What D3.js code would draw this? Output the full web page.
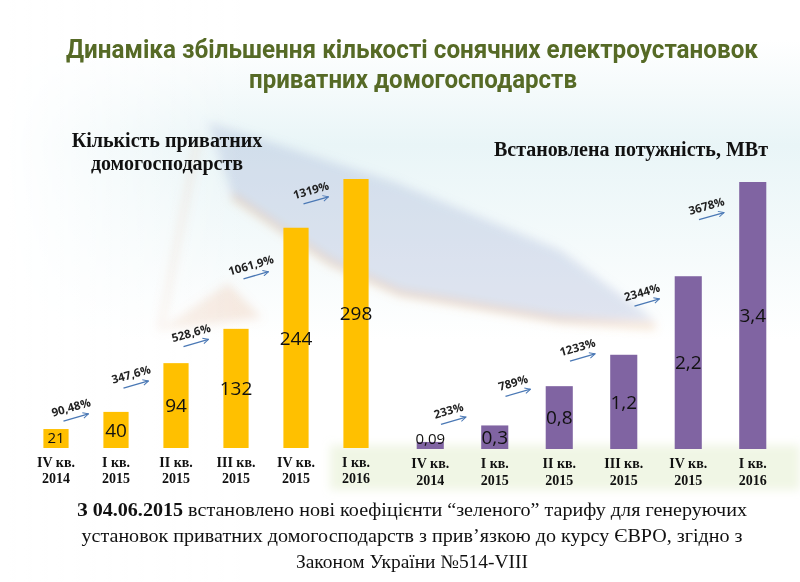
<!DOCTYPE html>
<meta charset="utf-8">

<script src="https://d3js.org/d3.v7.min.js"></script>

<style type="text/css">
body { margin: 0; background: #fff; }
svg { display: block; }
.main-title { font-family: Roboto, "Noto Sans", sans-serif; font-weight: bold; font-size: 25px; fill: #566a26; }
.panel-title { font-family: "Liberation Serif", serif; font-weight: bold; font-size: 20px; fill: #111; }
.cat { font-family: "Liberation Serif", serif; font-weight: bold; font-size: 14px; fill: #111; }
.value { font-family: "Open Sans", sans-serif; font-size: 19px; fill: #111; }
.growth { font-family: "Open Sans", sans-serif; font-weight: bold; font-size: 11.5px; fill: #222; }
.note { font-family: "Liberation Serif", serif; font-size: 19px; fill: #111; }
</style>

<body></body>

<script>

// data
var quarterNames = ["IV кв.", "I кв.", "II кв.", "III кв.", "IV кв.", "I кв."];
var quarterYears = ["2014", "2015", "2015", "2015", "2015", "2016"];

var householdCounts = [21, 40, 94, 132, 244, 298];
var householdGrowth = ["90,48%", "347,6%", "528,6%", "1061,9%", "1319%"];

var capacityMW = [0.09, 0.3, 0.8, 1.2, 2.2, 3.4];
var capacityGrowth = ["233%", "789%", "1233%", "2344%", "3678%"];

var width = 800, height = 582;

var svg = d3.select("body").append("svg")
    .attr("width", width)
    .attr("height", height);

var defs = svg.append("defs");

// faint background, loosely like the faded photo
var sky = defs.append("linearGradient").attr("id", "sky")
    .attr("x1", 0).attr("y1", 0).attr("x2", 0).attr("y2", 1);
sky.append("stop").attr("offset", "0%").attr("stop-color", "#ffffff");
sky.append("stop").attr("offset", "35%").attr("stop-color", "#e9f5f7");
sky.append("stop").attr("offset", "100%").attr("stop-color", "#ffffff");

var fadeLeft = defs.append("linearGradient").attr("id", "fadeLeft");
fadeLeft.append("stop").attr("offset", "0%").attr("stop-color", "#fff").attr("stop-opacity", 1);
fadeLeft.append("stop").attr("offset", "30%").attr("stop-color", "#fff").attr("stop-opacity", 0);

defs.append("filter").attr("id", "soft")
    .attr("x", "-20%").attr("y", "-20%").attr("width", "140%").attr("height", "140%")
  .append("feGaussianBlur").attr("stdDeviation", 5);

defs.append("marker")
    .attr("id", "arrow")
    .attr("viewBox", "0 0 10 10")
    .attr("refX", 9).attr("refY", 5)
    .attr("markerWidth", 7).attr("markerHeight", 7)
    .attr("markerUnits", "userSpaceOnUse")
    .attr("orient", "auto")
  .append("path")
    .attr("d", "M1,1 L9,5 L1,9")
    .attr("fill", "none")
    .attr("stroke", "#4a78b5")
    .attr("stroke-width", 1.4);

var bg = svg.append("g").attr("class", "background");
bg.append("rect").attr("x", 0).attr("y", 40).attr("width", width).attr("height", 300).attr("fill", "url(#sky)");
var photo = bg.append("g").attr("filter", "url(#soft)");
photo.append("path")
    .attr("d", "M208,122 L395,182 L560,250 L655,320 L560,320 L400,293 L330,262 L232,196 Z")
    .attr("fill", "#9aaad2").attr("opacity", 0.3);
photo.append("path")
    .attr("d", "M232,196 L330,262 L400,293 L560,320 L655,326")
    .attr("fill", "none").attr("stroke", "#e3a567").attr("stroke-width", 6).attr("opacity", 0.35);
photo.append("path")
    .attr("d", "M198,138 L160,330")
    .attr("fill", "none").attr("stroke", "#d9a27a").attr("stroke-width", 6).attr("opacity", 0.2);
photo.append("path")
    .attr("d", "M160,330 L228,283 L262,318 Z")
    .attr("fill", "#e3a57a").attr("opacity", 0.22);
photo.append("rect").attr("x", 330).attr("y", 445).attr("width", 470).attr("height", 45)
    .attr("fill", "#d5e6b5").attr("opacity", 0.35);
bg.append("rect").attr("x", 0).attr("y", 0).attr("width", width).attr("height", height).attr("fill", "url(#fadeLeft)");

// main title
svg.append("text").attr("class", "main-title")
    .attr("x", 412).attr("y", 58).attr("text-anchor", "middle")
    .attr("textLength", 692).attr("lengthAdjust", "spacingAndGlyphs")
    .text("Динаміка збільшення кількості сонячних електроустановок");
svg.append("text").attr("class", "main-title")
    .attr("x", 413).attr("y", 88).attr("text-anchor", "middle")
    .attr("textLength", 328).attr("lengthAdjust", "spacingAndGlyphs")
    .text("приватних домогосподарств");

function fmt(v) {
  return String(v).replace(".", ",");
}

function drawPanel(p) {
  var g = svg.append("g");

  var x = d3.scaleBand()
      .domain(d3.range(p.values.length))
      .range(p.xRange)
      .paddingInner(0.58)
      .paddingOuter(0.29);

  var y = d3.scaleLinear()
      .domain([0, d3.max(p.values)])
      .range(p.yRange);

  g.selectAll(".bar")
      .data(p.values)
    .enter().append("rect")
      .attr("class", "bar")
      .attr("x", function(d, i) { return x(i); })
      .attr("y", function(d) { return y(d); })
      .attr("width", x.bandwidth())
      .attr("height", function(d) { return y(0) - y(d); })
      .attr("fill", p.color);

  g.selectAll(".value")
      .data(p.values)
    .enter().append("text")
      .attr("class", "value")
      .attr("x", function(d, i) { return x(i) + x.bandwidth() / 2; })
      .attr("y", function(d) { return Math.min((y(d) + y(0)) / 2, y(0) - 10); })
      .attr("dy", "0.36em")
      .attr("text-anchor", "middle")
      .style("font-size", function(d) { return y(0) - y(d) < 20 ? "15px" : null; })
      .text(function(d) { return fmt(d); });

  // quarter labels
  var axis = g.append("g")
      .attr("transform", "translate(0," + y(0) + ")")
      .call(d3.axisBottom(x).tickSize(0).tickFormat(""));
  axis.select(".domain").remove();
  axis.selectAll(".tick text").remove();
  var ticks = axis.selectAll(".tick").append("text")
      .attr("class", "cat")
      .attr("text-anchor", "middle");
  ticks.append("tspan").attr("x", 0).attr("y", p.catY[0]).text(function(d) { return quarterNames[d]; });
  ticks.append("tspan").attr("x", 0).attr("y", p.catY[1]).text(function(d) { return quarterYears[d]; });

  // growth arrows between neighbouring bars
  var ann = g.selectAll(".ann")
      .data(p.growth)
    .enter().append("g")
      .attr("class", "ann")
      .attr("transform", function(d, i) {
        var cx = (x(i) + x(i + 1) + x.bandwidth()) / 2 + p.annDx;
        var cy = y((p.values[i] + p.values[i + 1]) / 2) + p.annDy;
        return "translate(" + cx + "," + cy + ") rotate(-16)";
      });
  ann.append("line")
      .attr("x1", -13).attr("x2", 13)
      .attr("y1", 0).attr("y2", 0)
      .attr("stroke", "#4a78b5")
      .attr("stroke-width", 1.3)
      .attr("marker-end", "url(#arrow)");
  ann.append("text")
      .attr("class", "growth")
      .attr("x", -2).attr("y", -7)
      .attr("text-anchor", "middle")
      .text(function(d) { return d; });

  // panel title
  var t = svg.append("text").attr("class", "panel-title").attr("text-anchor", "middle");
  p.title.forEach(function(line, i) {
    t.append("tspan").attr("x", p.titleX).attr("y", p.titleY + i * 23).text(line);
  });
}

drawPanel({
  values: householdCounts,
  growth: householdGrowth,
  color: "#ffc000",
  xRange: [26, 386],
  yRange: [448, 179],
  catY: [19, 35],
  annDx: -10,
  annDy: -3,
  title: ["Кількість приватних", "домогосподарств"],
  titleX: 167,
  titleY: 147
});

drawPanel({
  values: capacityMW,
  growth: capacityGrowth,
  color: "#8064a2",
  xRange: [398, 785],
  yRange: [449, 182],
  catY: [19, 36],
  annDx: -9,
  annDy: -13,
  title: ["Встановлена потужність, МВт"],
  titleX: 631,
  titleY: 156
});

// note under the charts
var note = svg.append("g").attr("class", "note-block");
var l1 = note.append("text").attr("class", "note")
    .attr("x", 412).attr("y", 516).attr("text-anchor", "middle")
    .attr("textLength", 670).attr("lengthAdjust", "spacingAndGlyphs");
l1.append("tspan").style("font-weight", "bold").text("З 04.06.2015");
l1.append("tspan").text(" встановлено нові коефіцієнти “зеленого” тарифу для генеруючих");
note.append("text").attr("class", "note")
    .attr("x", 412).attr("y", 542).attr("text-anchor", "middle")
    .attr("textLength", 661).attr("lengthAdjust", "spacingAndGlyphs")
    .text("установок приватних домогосподарств з прив’язкою до курсу ЄВРО, згідно з");
note.append("text").attr("class", "note")
    .attr("x", 412).attr("y", 568).attr("text-anchor", "middle")
    .attr("textLength", 232).attr("lengthAdjust", "spacingAndGlyphs")
    .text("Законом України №514-VIII");

</script>
